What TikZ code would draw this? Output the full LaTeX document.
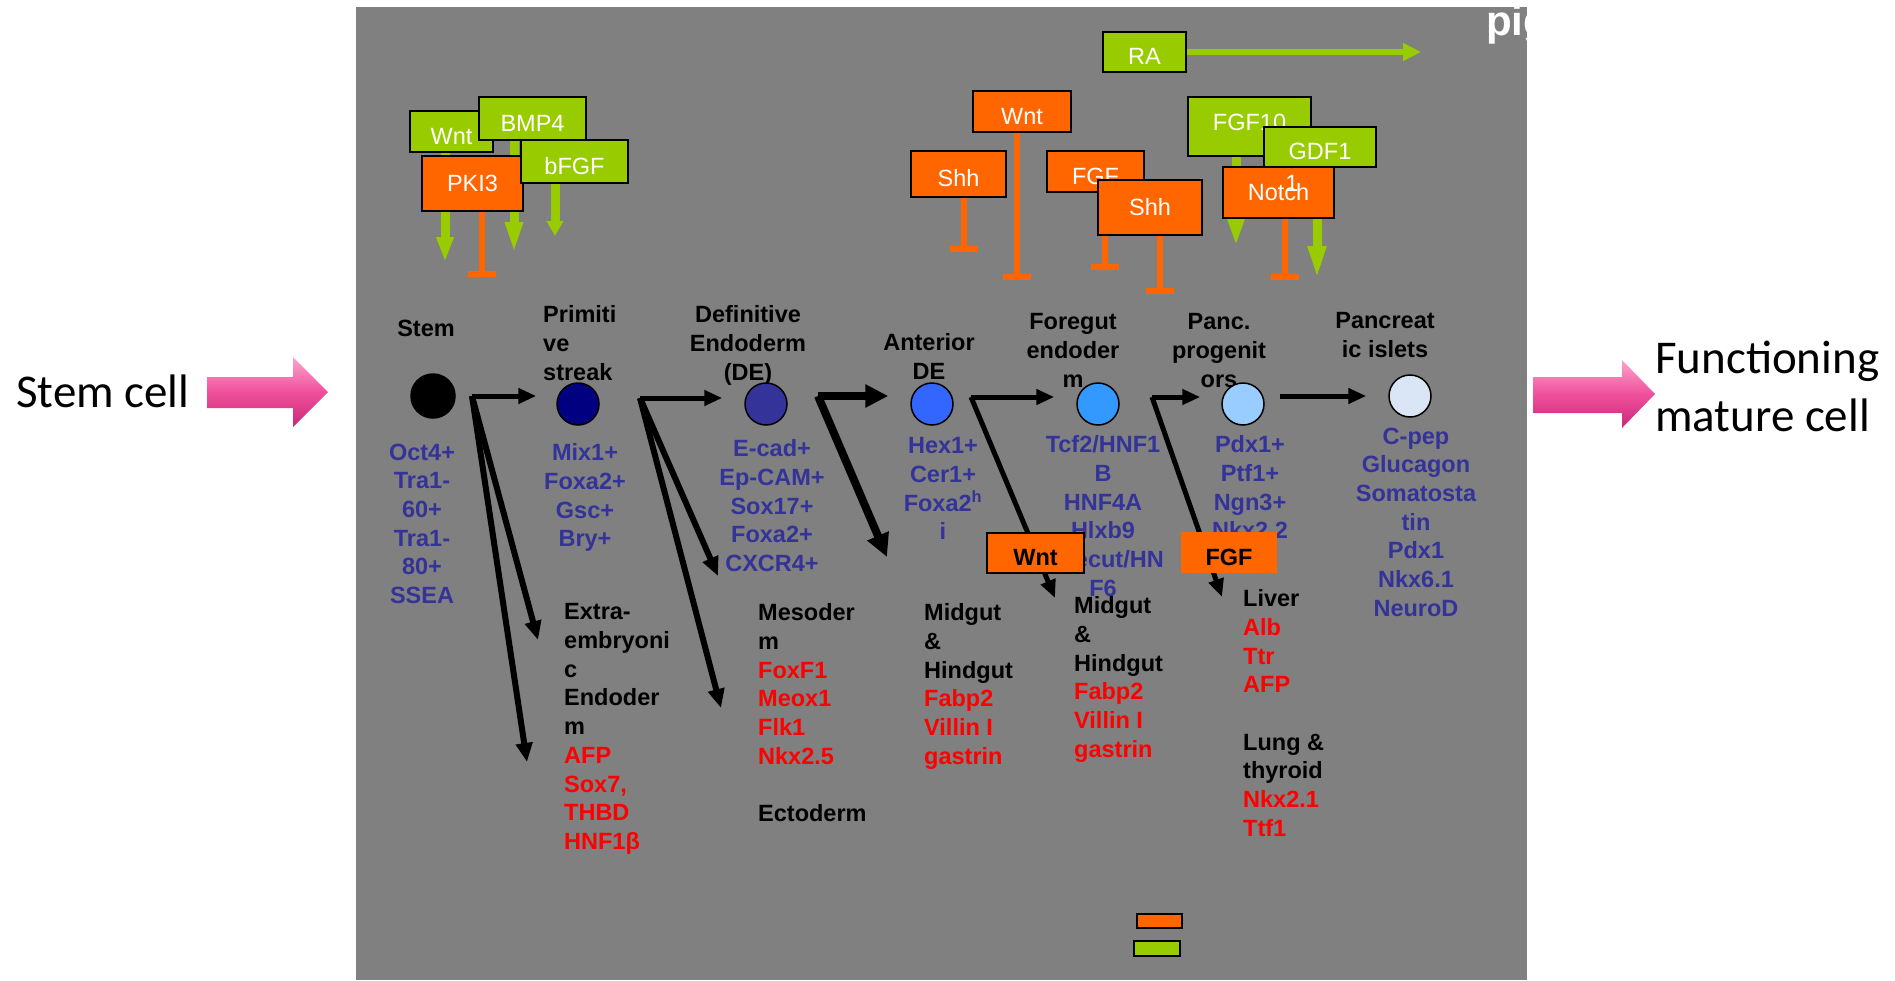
\documentclass[tikz,border=0pt]{standalone}
\usepackage{fontspec}
\setmainfont{Liberation Sans}
\newfontfamily\calibri{Carlito}
\usepackage{xcolor}
\usepackage{tikz}
\usetikzlibrary{positioning,arrows.meta}

\definecolor{panelgray}{RGB}{128,128,128}
\definecolor{sigorange}{RGB}{255,102,0}
\definecolor{siggreen}{RGB}{153,204,0}
\definecolor{markblue}{RGB}{51,51,153}
\definecolor{genered}{RGB}{255,0,0}
\definecolor{pinklt}{RGB}{250,165,205}
\definecolor{pinkmd}{RGB}{240,80,155}
\definecolor{pinkdk}{RGB}{200,40,120}

\pgfdeclarelayer{panel}
\pgfdeclarelayer{back}
\pgfsetlayers{panel,back,main}

\newcommand{\pnl}{\fontsize{23.5}{28.7}\selectfont}
\newcommand{\gene}[1]{\textcolor{genered}{#1}}

\begin{document}
\begin{tikzpicture}[x=1pt, y=-1pt,
  stage/.style={font=\pnl\bfseries, align=center, inner sep=0pt, anchor=north},
  marker/.style={font=\pnl\bfseries, text=markblue, align=center, inner sep=0pt, anchor=north},
  fate/.style={font=\pnl\bfseries, align=left, inner sep=0pt, anchor=north west},
  cell/.style={circle, draw=black, line width=1.5pt, minimum size=42pt, inner sep=0pt},
  sig/.style={draw=black, line width=1.5pt, inner sep=0pt, font=\pnl, text=white},
  act/.style={sig, fill=siggreen},
  inh/.style={sig, fill=sigorange},
  low/.style={text height=25pt, text depth=0pt},
  high/.style={text height=16.8pt, text depth=8pt},
  outer/.style={font=\calibri\fontsize{47}{58}\selectfont, inner sep=0pt},
  flow/.style={line width=5pt, -{Triangle[width=15pt,length=18pt]}},
  flowdiag/.style={line width=6pt, -{Triangle[width=16pt,length=19pt]}},
  flowthick/.style={line width=8pt, -{Triangle[width=22pt,length=23pt]}},
  push/.style={siggreen, line width=9pt, -{Triangle[width=16pt,length=#1]}},
  block/.style={sigorange, line width=6pt, -{Bar[width=28pt]}}]
  \useasboundingbox (0,0) rectangle (1895,980);

  % Gray panel
  \begin{pgfonlayer}{panel}
    \fill[panelgray] (356,7) rectangle (1527,980);
  \end{pgfonlayer}
  \begin{scope}
    \clip (356,7) rectangle (1527,980);
    \node[font=\fontsize{42}{50}\selectfont\bfseries, text=white, inner sep=0pt, anchor=base west] (pig) at (1486,35) {pig};
  \end{scope}

  % Outer labels and pink arrows
  \node[outer, anchor=base west] (stemcell) at (16,407) {Stem cell};
  \node[outer, align=left, anchor=north west] (mature) at (1655,341) {Functioning\\mature cell};
  \shade[top color=pinklt, bottom color=pinkdk, middle color=pinkmd]
    (207,377) -- (293,377) -- (293,357) -- (328,392) -- (293,427) -- (293,408) -- (207,408) -- cycle;
  \shade[top color=pinklt, bottom color=pinkdk, middle color=pinkmd]
    (1533,377) -- (1622,377) -- (1622,360) -- (1655,394) -- (1622,428) -- (1622,413) -- (1533,413) -- cycle;

  % Stage titles
  \node[stage] (stemlbl) at (426,319.5) {Stem};
  \node[stage, align=left, anchor=north west] (primlbl) at (543,305.5) {Primiti\\ve\\streak};
  \node[stage] (delbl) at (748,305.5) {Definitive\\Endoderm\\(DE)};
  \node[stage] (adelbl) at (929,333.5) {Anterior\\DE};
  \node[stage] (fglbl) at (1073,313.5) {Foregut\\endoder\\m};
  \node[stage] (pplbl) at (1219,313.5) {Panc.\\progenit\\ors};
  \node[stage] (isletlbl) at (1385,312.5) {Pancreat\\ic islets};

  % Cells
  \node[cell, fill=black, minimum size=44pt] (stem) at (433,396) {};
  \node[cell, fill={rgb,255:red,0;green,0;blue,128}] (prim) at (578,404) {};
  \node[cell, fill={rgb,255:red,51;green,51;blue,153}] (de) at (766,404) {};
  \node[cell, fill={rgb,255:red,51;green,102;blue,255}] (ade) at (932,404) {};
  \node[cell, fill={rgb,255:red,51;green,153;blue,255}] (fg) at (1098,404) {};
  \node[cell, fill={rgb,255:red,153;green,204;blue,255}] (pp) at (1243,404) {};
  \node[cell, fill={rgb,255:red,218;green,230;blue,246}] (islet) at (1410,396) {};

  % Marker lists
  \node[marker] (stemmk) at (422,443.5) {Oct4+\\Tra1-\\60+\\Tra1-\\80+\\SSEA};
  \node[marker] (primmk) at (585,443.5) {Mix1+\\Foxa2+\\Gsc+\\Bry+};
  \node[marker] (demk) at (772,439.5) {E-cad+\\Ep-CAM+\\Sox17+\\Foxa2+\\CXCR4+};
  \node[marker] (ademk) at (943,437.5) {Hex1+\\Cer1+\\Foxa2\textsuperscript{h}\\i};
  \node[marker] (fgmk) at (1103,435.5) {Tcf2/HNF1\\B\\HNF4A\\Hlxb9\\Onecut/HN\\F6};
  \node[marker] (ppmk) at (1250,435.5) {Pdx1+\\Ptf1+\\Ngn3+\\Nkx2.2};
  \node[marker] (isletmk) at (1416,427.5) {C-pep\\Glucagon\\Somatosta\\tin\\Pdx1\\Nkx6.1\\NeuroD};

  % Side fates
  \node[fate] (extra) at (564,603.5) {Extra-\\embryoni\\c\\Endoder\\m\\\gene{AFP}\\\gene{Sox7,}\\\gene{THBD}\\\gene{HNF1β}};
  \node[fate] (meso) at (758,603.5) {Mesoder\\m\\\gene{FoxF1}\\\gene{Meox1}\\\gene{Flk1}\\\gene{Nkx2.5}\\[28.7pt]Ectoderm};
  \node[fate] (midA) at (924,603.5) {Midgut\\\&\\Hindgut\\\gene{Fabp2}\\\gene{Villin I}\\\gene{gastrin}};
  \node[fate] (midB) at (1074,596.5) {Midgut\\\&\\Hindgut\\\gene{Fabp2}\\\gene{Villin I}\\\gene{gastrin}};
  \node[fate] (liver) at (1243,589.5) {Liver\\\gene{Alb}\\\gene{Ttr}\\\gene{AFP}\\[28.7pt]Lung \&\\thyroid\\\gene{Nkx2.1}\\\gene{Ttf1}};

  % Signals on the side branches
  \node[inh, low, text=black, font=\pnl\bfseries, minimum width=97pt, minimum height=40pt] (wntlow) at (1035.5,553) {Wnt};
  \node[fill=sigorange, low, inner sep=0pt, font=\pnl\bfseries, minimum width=96pt, minimum height=41pt] (fgflow) at (1229,552.5) {FGF};

  % Signals, left group
  \node[act, low, minimum width=83pt, minimum height=41pt] (wntA) at (451.5,131.5) {Wnt};
  \node[act, low, minimum width=107pt, minimum height=43pt] (bmp) at (532.5,118.5) {BMP4};
  \node[inh, minimum width=101pt, minimum height=55pt] (pki) at (472.5,183.5) {PKI3};
  \node[act, low, minimum width=107pt, minimum height=43pt] (bfgf) at (574.5,161.5) {bFGF};

  % Signals, right group
  \node[inh, low, minimum width=98pt, minimum height=41pt] (wntB) at (1022,111.5) {Wnt};
  \node[inh, low, minimum width=95pt, minimum height=46pt] (shhA) at (958.5,174) {Shh};
  \node[inh, low, minimum width=97pt, minimum height=41pt] (fgfA) at (1095.5,171.5) {FGF};
  \node[inh, minimum width=104pt, minimum height=55pt] (shhB) at (1150,207.5) {Shh};
  \node[act, high, minimum width=123pt, minimum height=59pt] (fgften) at (1249.5,126.5) {FGF10};
  \node[inh, minimum width=111pt, minimum height=51pt] (notch) at (1278.5,192.5) {Notch};
  \node[act, low, minimum width=112pt, minimum height=40pt] (gdf) at (1320,147) {GDF1};
  \node[font=\pnl, text=white, inner sep=0pt] (gdfwrap) at (1292,183) {1};
  \node[act, low, minimum width=83pt, minimum height=40pt] (ra) at (1144.5,52) {RA};

  % Legend
  \node[inh, minimum width=45pt, minimum height=14pt] (leginh) at (1159.5,921) {};
  \node[act, minimum width=46pt, minimum height=15pt] (legact) at (1157,948.5) {};

  % Free ends
  \coordinate (stemfork) at (472,396);
  \coordinate (primfork) at (640,398);
  \coordinate (defork) at (818,396);
  \coordinate (adefork) at (971,397);
  \coordinate (fgfork) at (1152,397);
  \coordinate (extratip) at (538,640);
  \coordinate (stemtip) at (527,762);
  \coordinate (cxcrtip) at (718,576);
  \coordinate (mesotip) at (721,708);
  \coordinate (midtip) at (887,557);
  \coordinate (wnttip) at (1055,598);
  \coordinate (livertip) at (1222,597);
  \coordinate (wntAtip) at (445,262);
  \coordinate (bmptip) at (514,254);
  \coordinate (bfgftip) at (555,236);
  \coordinate (fgftentip) at (1236,246);
  \coordinate (gdftip) at (1317,282);
  \coordinate (ratip) at (1421,52);
  \coordinate (pkiend) at (482,277);
  \coordinate (wntBend) at (1017,280);
  \coordinate (shhAend) at (964,252);
  \coordinate (fgfAend) at (1105,270);
  \coordinate (shhBend) at (1160,294);
  \coordinate (notchend) at (1285,280);

  \begin{pgfonlayer}{back}
    % Differentiation arrows
    \draw[flow, shorten >=20pt] (stemfork) -- (stemfork -| prim.west);
    \draw[flowdiag] (stemfork) -- (extratip);
    \draw[flowdiag] (stemfork) -- (stemtip);
    \draw[flow, shorten >=22pt] (primfork) -- (primfork -| de.west);
    \draw[flowdiag] (primfork) -- (cxcrtip);
    \draw[flowdiag] (primfork) -- (mesotip);
    \draw[flowthick, shorten >=22pt] (defork) -- (defork -| ade.west);
    \draw[flowthick] (defork) -- (midtip);
    \draw[flow, shorten >=22pt] (adefork) -- (adefork -| fg.west);
    \draw[flow] (adefork) -- (wnttip);
    \draw[flow, shorten >=21pt] (fgfork) -- (fgfork -| pp.west);
    \draw[flow] (fgfork) -- (livertip);
    \draw[flow, shorten <=15pt, shorten >=22pt] (pp.east |- islet.west) -- (islet.west);
    % Activating signals
    \draw[push=25pt] (wntA.south -| wntAtip) -- (wntAtip);
    \draw[push=32pt] (bmp.south -| bmptip) -- (bmptip);
    \draw[push=15pt] (bfgf.south -| bfgftip) -- (bfgftip);
    \draw[push=28pt] (fgften.south -| fgftentip) -- (fgftentip);
    \draw[push=36pt] (gdf.south -| gdftip) -- (gdftip);
    \draw[siggreen, line width=6pt, -{Triangle[width=17pt,length=18pt]}] (ra.east) -- (ratip);
    % Inhibiting signals
    \draw[block] (pki.south -| pkiend) -- (pkiend);
    \draw[block] (wntB.south -| wntBend) -- (wntBend);
    \draw[block] (shhA.south -| shhAend) -- (shhAend);
    \draw[block] (fgfA.south -| fgfAend) -- (fgfAend);
    \draw[block] (shhB.south -| shhBend) -- (shhBend);
    \draw[block] (notch.south -| notchend) -- (notchend);
  \end{pgfonlayer}
\end{tikzpicture}
\end{document}
